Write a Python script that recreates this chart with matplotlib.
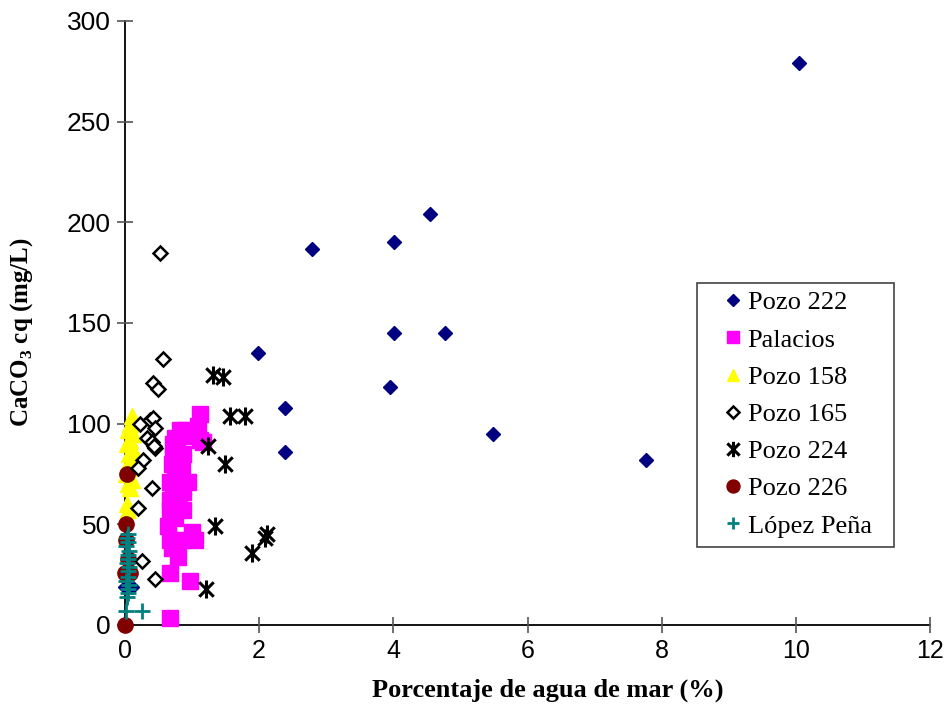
import matplotlib
matplotlib.use("Agg")
import matplotlib.pyplot as plt
from matplotlib.path import Path
from matplotlib.patches import Rectangle

plt.rcParams["mathtext.fontset"] = "custom"
plt.rcParams["mathtext.rm"] = "Liberation Serif:bold"
plt.rcParams["mathtext.bf"] = "Liberation Serif:bold"

# ================= DATA =================
pozo222_x = [10.04, 4.55, 4.01, 2.79, 4.01, 4.77, 1.98, 3.95, 2.38, 2.38, 5.48, 7.76, 0.0, 0.1]
pozo222_y = [279, 204, 190, 187, 145, 145, 135, 118, 108, 86, 95, 82, 19, 19]

palacios_x = [1.12, 0.82, 1.09, 1.16, 0.72, 0.87, 0.70, 0.85, 0.94, 0.67, 0.87, 0.67,
              0.87, 0.67, 0.64, 1.00, 0.67, 0.85, 1.04, 0.79, 0.67, 0.97, 0.67,
              0.75, 0.78, 0.72, 0.80, 0.75, 0.78, 0.72, 0.80, 0.75, 0.70, 0.88, 0.90, 1.12]
palacios_y = [105, 97, 99, 91, 90, 85, 80, 79, 71, 71, 66, 62,
              57, 57, 49, 46, 42, 42, 42, 34, 26, 22, 3.5,
              93, 88, 84, 76, 74, 68, 64, 60, 53, 38, 94, 97, 92]

pozo158_x = [0.10, 0.08, 0.05, 0.12, 0.07, 0.03, 0.10, 0.06, 0.13, 0.04, 0.08, 0.02,
             0.10, 0.05, 0.07, 0.03, 0.05]
pozo158_y = [104, 100, 97, 95, 92, 90, 88, 85, 83, 80, 78, 75, 72, 70, 68, 60, 57]

pozo165_x = [0.52, 0.57, 0.42, 0.49, 0.22, 0.37, 0.42, 0.45, 0.33, 0.40, 0.45, 0.43,
             0.27, 0.19, 0.40, 0.19, 0.25, 0.45]
pozo165_y = [185, 132, 120, 117, 100, 102, 103, 98, 93, 91, 88, 89,
             82, 78, 68, 58, 32, 23]

pozo224_x = [1.31, 1.46, 1.56, 1.79, 1.24, 1.49, 1.34, 2.08, 2.12, 1.89, 1.21]
pozo224_y = [124, 123, 104, 104, 89, 80, 49, 43, 45, 36, 18]

pozo226_x = [0.03, 0.02, 0.02, 0.0, 0.08, 0.04, 0.0]
pozo226_y = [75, 50, 42, 26, 26, 33, 0]

lopez_x = [0.05, 0.03, 0.05, 0.02, 0.06, 0.04, 0.05, 0.03, 0.06, 0.04, 0.05, 0.02,
           0.06, 0.04, 0.05, 0.03, 0.02, 0.25]
lopez_y = [45, 43, 41, 39, 37, 35, 33, 31, 29, 27, 24, 22, 20, 18, 16, 14, 7, 7]

x_ticks = [0, 2, 4, 6, 8, 10, 12]
y_ticks = [0, 50, 100, 150, 200, 250, 300]

# Excel-like star marker: X plus a vertical bar
star = Path([(-1, -1), (1, 1), (-1, 1), (1, -1), (0, -1.25), (0, 1.25)],
            [Path.MOVETO, Path.LINETO, Path.MOVETO, Path.LINETO, Path.MOVETO, Path.LINETO])

W, H = 948, 704
fig = plt.figure(figsize=(W / 100, H / 100), dpi=100)
ax = fig.add_axes([125 / W, 1 - 625 / H, 805 / W, 604 / H])

kw = dict(ls="none", clip_on=False)
ax.plot(pozo222_x, pozo222_y, marker="D", ms=7.5, color="#000080",
        mec="#000080", label="Pozo 222", zorder=3, **kw)
ax.plot(palacios_x, palacios_y, marker="s", ms=11, color="#FF00FF",
        mec="#FF00FF", label="Palacios", zorder=3, **kw)
ax.plot(pozo158_x, pozo158_y, marker="^", ms=11, color="#FFFF00",
        mec="#FFFF00", label="Pozo 158", zorder=3, **kw)
ax.plot(pozo165_x, pozo165_y, marker="D", ms=7, mfc="white",
        mec="black", mew=1.8, label="Pozo 165", zorder=4, **kw)
ax.plot(pozo224_x, pozo224_y, marker=star, ms=13, color="black",
        mew=2.2, label="Pozo 224", zorder=4, **kw)
ax.plot(pozo226_x, pozo226_y, marker="o", ms=11, color="#800000",
        mec="#800000", label="Pozo 226", zorder=3, **kw)
ax.plot(lopez_x, lopez_y, marker="+", ms=11, color="#008080",
        mew=2, label="López Peña", zorder=5, **kw)

ax.set_xlim(0, 12)
ax.set_ylim(0, 300)
ax.set_xticks(x_ticks)
ax.set_yticks(y_ticks)
ax.spines["top"].set_visible(False)
ax.spines["right"].set_visible(False)
ax.spines["left"].set_linewidth(1.3)
ax.spines["bottom"].set_linewidth(1.3)
ax.spines["left"].set_zorder(0)
ax.spines["bottom"].set_zorder(0)
ax.tick_params(direction="inout", length=12, width=1.2, color="#555555")
ax.tick_params(axis="x", pad=4)
ax.tick_params(axis="y", pad=4)
for lab in ax.get_yticklabels():
    lab.set_fontfamily(["Liberation Sans", "DejaVu Sans"])
    lab.set_fontsize(19)
for lab in ax.get_xticklabels():
    lab.set_fontfamily(["Liberation Sans", "DejaVu Sans"])
    lab.set_fontsize(18)

fig.text(548 / W, 1 - 690 / H, "Porcentaje de agua de mar (%)", ha="center", va="center",
         fontsize=19, fontweight="bold", family="Liberation Serif")
fig.text(22 / W, 1 - 332 / H, r"CaCO$_\mathbf{3}$ cq (mg/L)", ha="center", va="center",
         rotation=90, fontsize=18, fontweight="bold", family="Liberation Serif")

# legend entries without frame, frame drawn separately to match the wide box
leg = ax.legend(loc="upper left", bbox_to_anchor=(720 / W, 1 - 291 / H),
                bbox_transform=fig.transFigure, frameon=False,
                prop={"family": "Liberation Serif", "size": 19}, handletextpad=0.05,
                handlelength=1.0, labelspacing=0.52, borderpad=0, borderaxespad=0)
for h in leg.legend_handles:
    h.set_markersize(h.get_markersize() * 0.85)
fig.patches.append(Rectangle((697 / W, 1 - 547 / H), 197 / W, 264 / H,
                             transform=fig.transFigure, fill=False,
                             edgecolor="#444444", linewidth=1.2))

fig.savefig("out.png", dpi=100)
